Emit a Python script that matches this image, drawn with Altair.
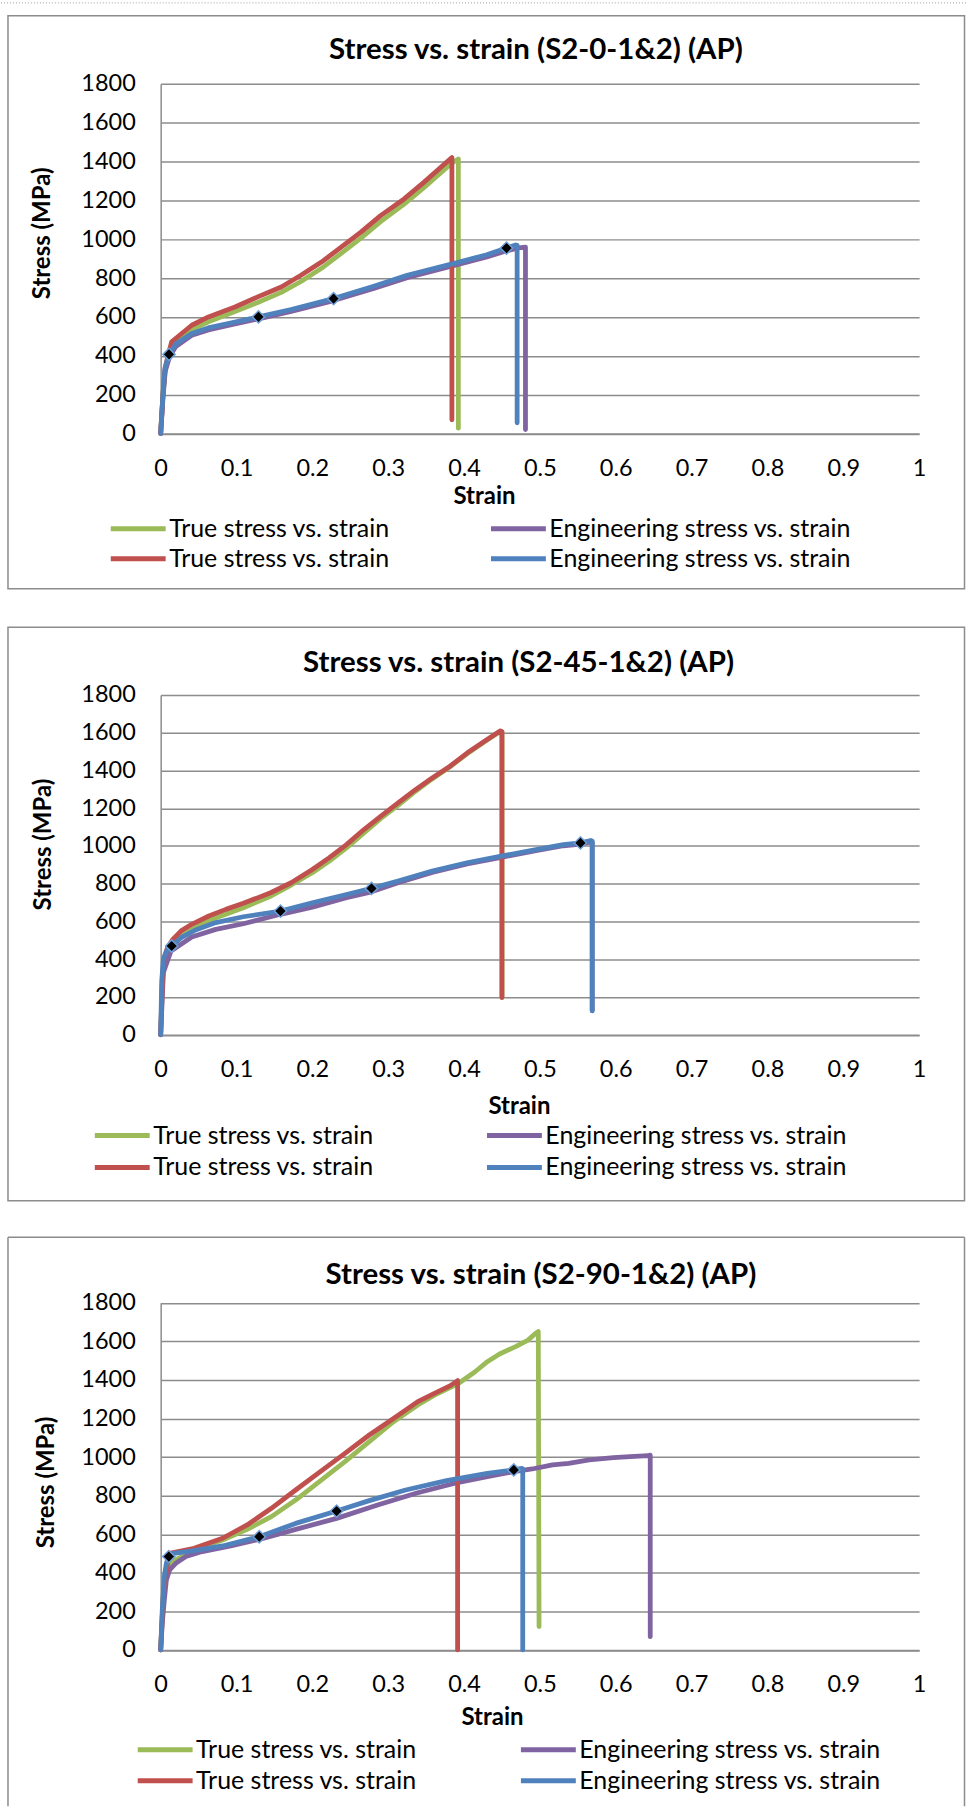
import altair as alt
import pandas as pd

FONT = "Lato"
GREEN, PURPLE, RED, BLUE = "#9BBB59", "#8064A2", "#C0504D", "#4F81BD"
SERIES = ["T1", "E1", "T2", "E2"]            # drawing order
LEGEND_ORDER = ["T1", "T2", "E1", "E2"]      # column-major legend order
LEGEND_COLORS = [GREEN, RED, PURPLE, BLUE]
GRID = "#8c8c8c"

TITLES = ["Stress vs. strain (S2-0-1&2) (AP)",
          "Stress vs. strain (S2-45-1&2) (AP)",
          "Stress vs. strain (S2-90-1&2) (AP)"]
X_TICKS = [0, 0.1, 0.2, 0.3, 0.4, 0.5, 0.6, 0.7, 0.8, 0.9, 1]
Y_TICKS = [0, 200, 400, 600, 800, 1000, 1200, 1400, 1600, 1800]

# ---------------- Panel 1 : S2-0 ----------------
p1_T1_strain = [0, 0.003, 0.006, 0.011, 0.02, 0.041, 0.063, 0.098, 0.128, 0.159, 0.185, 0.212, 0.238, 0.264, 0.29, 0.321, 0.347, 0.384, 0.3925, 0.3925]
p1_T1_stress = [0, 200, 330, 405, 470, 535, 575, 627, 674, 726, 782, 850, 927, 1005, 1090, 1180, 1265, 1392, 1412, 27]
p1_E1_strain = [0, 0.003, 0.006, 0.012, 0.02, 0.041, 0.063, 0.089, 0.129, 0.172, 0.228, 0.282, 0.325, 0.391, 0.43, 0.456, 0.472, 0.481, 0.481]
p1_E1_stress = [0, 180, 320, 398, 448, 505, 533, 556, 590, 628, 684, 748, 802, 868, 908, 940, 955, 959, 20]
p1_T2_strain = [0, 0.003, 0.006, 0.011, 0.0145, 0.041, 0.063, 0.098, 0.128, 0.159, 0.185, 0.212, 0.238, 0.264, 0.29, 0.321, 0.347, 0.384, 0.384]
p1_T2_stress = [0, 200, 340, 420, 472, 557, 600, 651, 703, 754, 814, 882, 959, 1036, 1121, 1207, 1292, 1420, 70]
p1_E2_strain = [0, 0.003, 0.0057, 0.011, 0.02, 0.041, 0.0626, 0.089, 0.129, 0.172, 0.228, 0.282, 0.325, 0.391, 0.43, 0.456, 0.468, 0.47, 0.47]
p1_E2_stress = [0, 200, 335, 407, 460, 514, 543, 566, 600, 638, 694, 759, 814, 879, 920, 954, 970, 968, 55]
p1_mark_strain = [0.011, 0.129, 0.228, 0.456]
p1_mark_stress = [407, 600, 694, 954]

# ---------------- Panel 2 : S2-45 ----------------
p2_T1_strain = [0, 0.0023, 0.0045, 0.018, 0.041, 0.0635, 0.086, 0.109, 0.145, 0.172, 0.2, 0.222, 0.245, 0.268, 0.29, 0.313, 0.336, 0.358, 0.381, 0.404, 0.4265, 0.44, 0.448, 0.45, 0.45]
p2_T1_stress = [0, 280, 405, 497, 558, 606, 638, 673, 734, 793, 858, 919, 990, 1069, 1145, 1215, 1290, 1355, 1418, 1488, 1550, 1586, 1606, 1603, 197]
p2_E1_strain = [0, 0.0036, 0.0136, 0.041, 0.0726, 0.109, 0.158, 0.2, 0.245, 0.278, 0.313, 0.358, 0.404, 0.449, 0.495, 0.531, 0.5535, 0.567, 0.569, 0.569]
p2_E1_stress = [0, 330, 444, 518, 558, 588, 638, 676, 726, 757, 805, 860, 905, 940, 975, 1001, 1010, 1022, 1020, 127]
p2_T2_strain = [0, 0.0023, 0.0045, 0.009, 0.016, 0.027, 0.041, 0.0635, 0.086, 0.109, 0.145, 0.172, 0.2, 0.222, 0.245, 0.268, 0.29, 0.313, 0.336, 0.358, 0.381, 0.404, 0.4265, 0.44, 0.448, 0.45, 0.45]
p2_T2_stress = [0, 285, 409, 461, 505, 550, 585, 629, 664, 696, 752, 805, 875, 937, 1007, 1087, 1157, 1228, 1298, 1360, 1421, 1492, 1553, 1589, 1610, 1606, 197]
p2_E2_strain = [0, 0.0014, 0.0036, 0.009, 0.0145, 0.027, 0.045, 0.0726, 0.109, 0.158, 0.2, 0.245, 0.278, 0.313, 0.358, 0.404, 0.449, 0.495, 0.531, 0.5535, 0.567, 0.569, 0.569]
p2_E2_stress = [0, 285, 400, 453, 470, 514, 553, 594, 625, 655, 699, 743, 775, 814, 867, 911, 946, 981, 1007, 1016, 1029, 1025, 127]
p2_mark_strain = [0.0145, 0.158, 0.278, 0.5535]
p2_mark_stress = [470, 655, 775, 1016]

# ---------------- Panel 3 : S2-90 ----------------
p3_T1_strain = [0, 0.003, 0.0064, 0.0145, 0.0548, 0.0816, 0.114, 0.146, 0.178, 0.2105, 0.243, 0.275, 0.307, 0.339, 0.361, 0.393, 0.4146, 0.4307, 0.4468, 0.468, 0.4844, 0.4952, 0.4979, 0.4989]
p3_T1_stress = [0, 250, 415, 458, 535, 570, 625, 691, 777, 876, 976, 1080, 1183, 1270, 1321, 1382, 1442, 1494, 1534, 1572, 1606, 1644, 1650, 121]
p3_E1_strain = [0, 0.0021, 0.0048, 0.0075, 0.0118, 0.0199, 0.0333, 0.0548, 0.0924, 0.13, 0.178, 0.232, 0.286, 0.339, 0.388, 0.4307, 0.4656, 0.4898, 0.5166, 0.538, 0.565, 0.597, 0.619, 0.643, 0.6455, 0.6455]
p3_E1_stress = [0, 138, 259, 363, 415, 449, 484, 510, 539, 573, 625, 682, 751, 815, 864, 898, 924, 938, 959, 967, 985, 997, 1002, 1007, 1010, 69]
p3_T2_strain = [0, 0.004, 0.0107, 0.0118, 0.044, 0.0816, 0.114, 0.146, 0.178, 0.2105, 0.243, 0.275, 0.307, 0.339, 0.361, 0.382, 0.3915, 0.3915]
p3_T2_stress = [0, 320, 490, 501, 527, 579, 648, 734, 829, 924, 1019, 1114, 1200, 1287, 1330, 1370, 1396, 0]
p3_E2_strain = [0, 0.0021, 0.0048, 0.0075, 0.0107, 0.0172, 0.044, 0.0816, 0.13, 0.178, 0.232, 0.275, 0.323, 0.377, 0.4307, 0.4656, 0.4764, 0.4774, 0.4774]
p3_E2_stress = [0, 207, 380, 449, 484, 501, 515, 539, 587, 656, 720, 774, 829, 878, 915, 933, 941, 938, 0]
p3_mark_strain = [0.0107, 0.13, 0.232, 0.4656]
p3_mark_stress = [484, 587, 720, 933]

PANELS = [
    dict(title=TITLES[0], height=350.5, yrange=[350.5, 0],
         tx=376, ty=-24.5,
         xt_x=324, xt_y=63, yt_x=-118, yt_y=149.5,
         leg_x=-52.5, leg_y=431, leg_row=0, leg_col=98,
         frame=(-153, 805.5, -68.2, 506), closed=True, dotted=True,
         series={"T1": (p1_T1_strain, p1_T1_stress), "E1": (p1_E1_strain, p1_E1_stress),
                 "T2": (p1_T2_strain, p1_T2_stress), "E2": (p1_E2_strain, p1_E2_stress)},
         marks=(p1_mark_strain, p1_mark_stress)),
    dict(title=TITLES[1], height=340.5, yrange=[340.5, 0],
         tx=358.6, ty=-23.1,
         xt_x=359, xt_y=71.5, yt_x=-117, yt_y=149.5,
         leg_x=-68.5, leg_y=426.5, leg_row=2, leg_col=110,
         frame=(-153, 805.5, -67.8, 506.9), closed=True, dotted=False,
         series={"T1": (p2_T1_strain, p2_T1_stress), "E1": (p2_E1_strain, p2_E1_stress),
                 "T2": (p2_T2_strain, p2_T2_stress), "E2": (p2_E2_strain, p2_E2_stress)},
         marks=(p2_mark_strain, p2_mark_stress)),
    dict(title=TITLES[2], height=354.5, yrange=[354.5, 6.5],
         tx=381, ty=-12.5,
         xt_x=332, xt_y=67.5, yt_x=-114, yt_y=186.2,
         leg_x=-25.5, leg_y=439.5, leg_row=1, leg_col=101,
         frame=(-153, 805.5, -59, 511), closed=False, dotted=False,
         series={"T1": (p3_T1_strain, p3_T1_stress), "E1": (p3_E1_strain, p3_E1_stress),
                 "T2": (p3_T2_strain, p3_T2_stress), "E2": (p3_E2_strain, p3_E2_stress)},
         marks=(p3_mark_strain, p3_mark_stress)),
]

ONE = pd.DataFrame({"k": [0]})


def make_panel(p):
    xscale = alt.Scale(domain=[0, 1], nice=False, zero=False)
    yscale = alt.Scale(domain=[0, 1800], nice=False, range=p["yrange"])
    xaxis = alt.Axis(values=X_TICKS, format="~g", grid=False, ticks=False, tickSize=0,
                     domainColor=GRID, domainWidth=1.5, labelPadding=35, labelBaseline="middle",
                     labelFlush=False, labelOverlap=False, labelFont=FONT, labelFontSize=23.5,
                     labelColor="#000000", title="Strain", titleFont=FONT, titleFontSize=24,
                     titleFontWeight="bold", titleColor="#000000", titleX=p["xt_x"], titleY=p["xt_y"],
                     titleAlign="center", titleBaseline="middle")
    yaxis = alt.Axis(values=Y_TICKS, format="d", grid=True, gridColor=GRID, gridWidth=1.5,
                     ticks=False, tickSize=0, domainColor=GRID, domainWidth=1.5, labelPadding=25.5,
                     labelFlush=False, labelOverlap=False, labelFont=FONT, labelFontSize=23.5,
                     labelColor="#000000", title="Stress (MPa)", titleFont=FONT, titleFontSize=24,
                     titleFontWeight="bold", titleColor="#000000", titleAngle=270,
                     titleX=p["yt_x"], titleY=p["yt_y"], titleAlign="center", titleBaseline="middle")
    legend = alt.Legend(orient="none", legendX=p["leg_x"], legendY=p["leg_y"], columns=2,
                        symbolType="stroke", symbolSize=3025, symbolStrokeWidth=5, symbolOffset=0,
                        labelOffset=1, labelFont=FONT, labelFontSize=25, labelColor="#000000",
                        labelLimit=500, columnPadding=p["leg_col"], rowPadding=p["leg_row"],
                        clipHeight=30, padding=0, title=None,
                        labelExpr="(datum.label == 'T1' || datum.label == 'T2') ? 'True stress vs. strain' : 'Engineering stress vs. strain'")
    cscale = alt.Scale(domain=LEGEND_ORDER, range=LEGEND_COLORS)

    layers = []
    fx1, fx2, fy1, fy2 = p["frame"]
    if p["closed"]:
        layers.append(alt.Chart(ONE).mark_rect(fill="#ffffff", fillOpacity=0, stroke=GRID, strokeWidth=1.5)
                      .encode(x=alt.value(fx1), x2=alt.value(fx2), y=alt.value(fy1), y2=alt.value(fy2)))
    else:
        layers.append(alt.Chart(ONE).mark_rule(stroke=GRID, strokeWidth=1.5)
                      .encode(x=alt.value(fx1), x2=alt.value(fx2), y=alt.value(fy1)))
        layers.append(alt.Chart(ONE).mark_rule(stroke=GRID, strokeWidth=1.5)
                      .encode(x=alt.value(fx1), y=alt.value(fy1), y2=alt.value(fy2)))
        layers.append(alt.Chart(ONE).mark_rule(stroke=GRID, strokeWidth=1.5)
                      .encode(x=alt.value(fx2), y=alt.value(fy1), y2=alt.value(fy2)))
    if p["dotted"]:
        layers.append(alt.Chart(ONE).mark_rule(stroke="#a0a0a0", strokeWidth=1, strokeDash=[1, 2])
                      .encode(x=alt.value(-160), x2=alt.value(807), y=alt.value(-81)))

    title_df = pd.DataFrame({"t": [p["title"]]})
    layers.append(alt.Chart(title_df).mark_text(font=FONT, fontSize=29.5, fontWeight="bold", color="#000000",
                                                align="center", baseline="alphabetic")
                  .encode(text="t:N", x=alt.value(p["tx"]), y=alt.value(p["ty"])))

    for key in SERIES:
        s, v = p["series"][key]
        df = pd.DataFrame({"strain": s, "stress": v, "series": key, "order": list(range(len(s)))})
        layers.append(alt.Chart(df).mark_line(strokeWidth=4.8, strokeCap="round", strokeJoin="round")
                      .encode(x=alt.X("strain:Q", scale=xscale, axis=xaxis),
                              y=alt.Y("stress:Q", scale=yscale, axis=yaxis),
                              color=alt.Color("series:N", scale=cscale, legend=legend),
                              order=alt.Order("order:Q")))
    ms, mv = p["marks"]
    mdf = pd.DataFrame({"strain": ms, "stress": mv})
    layers.append(alt.Chart(mdf).mark_point(shape="diamond", filled=True, fill="#000000", stroke="#6FA0D8",
                                            strokeWidth=1.5, size=150, opacity=1)
                  .encode(x=alt.X("strain:Q", scale=xscale, axis=xaxis),
                          y=alt.Y("stress:Q", scale=yscale, axis=yaxis)))

    return alt.layer(*layers).properties(width=760, height=p["height"])


charts = [make_panel(p) for p in PANELS]
chart = alt.vconcat(*charts, spacing=261.5, bounds="flush").resolve_scale(
    color="independent", x="independent", y="independent"
).resolve_legend(color="independent").properties(
    padding=0, background="#ffffff"
).configure_view(strokeWidth=0)

chart.save("out.html", embed_options={"renderer": "svg", "actions": False})
